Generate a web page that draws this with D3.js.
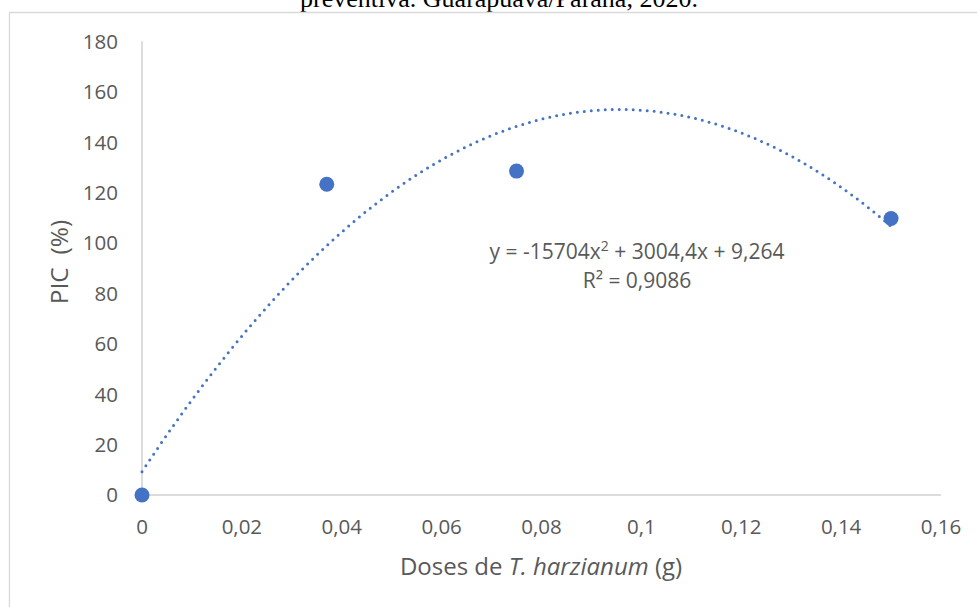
<!DOCTYPE html>
<html>
<head>
<meta charset="utf-8">
<script src="https://cdn.jsdelivr.net/npm/d3@7"></script>
<style>
  html, body { margin: 0; padding: 0; background: #fff; }
  svg { display: block; }
</style>
</head>
<body>
<svg id="chart" width="977" height="607"></svg>
<script>
// Observed PIC (%) per dose of T. harzianum (g)
const doses = [0, 0.037, 0.075, 0.15];
const picValues = [0, 123.3, 128.5, 109.7];

// Quadratic trend: y = a x^2 + b x + c
const trendA = -15704, trendB = 3004.4, trendC = 9.264;
const equationLabel = ["y = -15704x", "2", " + 3004,4x + 9,264"];
const r2Label = "R² = 0,9086";

const xTicks = [0, 0.02, 0.04, 0.06, 0.08, 0.1, 0.12, 0.14, 0.16];
const yTicks = [0, 20, 40, 60, 80, 100, 120, 140, 160, 180];

const captionText = "preventiva. Guarapuava/Paraná, 2020.";
const xTitleParts = ["Doses de ", "T. harzianum", " (g)"];
const yTitle = "PIC  (%)";

const svg = d3.select("#chart");
const sans = "'Open Sans', 'Noto Sans', sans-serif";
const grey = "#595959";
const axisGrey = "#d0d0d0";

const x = d3.scaleLinear().domain([0, 0.16]).range([142, 941]);
const y = d3.scaleLinear().domain([0, 180]).range([495, 41.3]);

// Caption line above the chart frame
svg.append("text")
  .attr("x", 499).attr("y", 7)
  .attr("text-anchor", "middle")
  .attr("font-family", "'Liberation Serif', 'Times New Roman', serif")
  .attr("font-size", 26)
  .attr("fill", "#000")
  .text(captionText);

// Chart frame (top and left edges)
svg.append("path")
  .attr("d", "M9.5,607 L9.5,12.5 L977,12.5")
  .attr("fill", "none")
  .attr("stroke", "#d9d9d9")
  .attr("stroke-width", 1.3);

// Axes lines
svg.append("line")
  .attr("x1", x(0)).attr("x2", x(0.16))
  .attr("y1", y(0)).attr("y2", y(0))
  .attr("stroke", axisGrey).attr("stroke-width", 1.5);
svg.append("line")
  .attr("x1", x(0)).attr("x2", x(0))
  .attr("y1", y(0)).attr("y2", y(180))
  .attr("stroke", axisGrey).attr("stroke-width", 1.5);

const fmtX = v => v === 0 ? "0" : d3.format(".2~f")(v).replace(".", ",");

// Tick labels
svg.append("g").selectAll("text")
  .data(xTicks).join("text")
  .attr("x", d => x(d)).attr("y", 534)
  .attr("text-anchor", "middle")
  .attr("font-family", sans).attr("font-size", 20.5).attr("fill", grey)
  .text(fmtX);

svg.append("g").selectAll("text")
  .data(yTicks).join("text")
  .attr("x", 118).attr("y", d => y(d))
  .attr("dy", "0.36em")
  .attr("text-anchor", "end")
  .attr("font-family", sans).attr("font-size", 20.5).attr("fill", grey)
  .text(d => d);

// Axis titles
const xt = svg.append("text")
  .attr("x", 541).attr("y", 575)
  .attr("text-anchor", "middle")
  .attr("font-family", sans).attr("font-size", 24).attr("fill", grey);
xTitleParts.forEach((p, i) => {
  xt.append("tspan").attr("font-style", i === 1 ? "italic" : "normal").text(p);
});

svg.append("text")
  .attr("transform", `translate(68,262) rotate(-90)`)
  .attr("text-anchor", "middle")
  .attr("font-family", sans).attr("font-size", 24.5).attr("fill", grey)
  .style("white-space", "pre")
  .attr("xml:space", "preserve")
  .text(yTitle);

// Trend curve (dotted)
const curveXs = d3.range(0, 0.15 + 1e-9, 0.0005);
const line = d3.line()
  .x(d => x(d))
  .y(d => y(trendA * d * d + trendB * d + trendC));
svg.append("path")
  .datum(curveXs)
  .attr("d", line)
  .attr("fill", "none")
  .attr("stroke", "#4472c4")
  .attr("stroke-width", 3)
  .attr("stroke-linecap", "round")
  .attr("stroke-dasharray", "0 7");

// Data points
svg.append("g").selectAll("circle")
  .data(doses.map((d, i) => [d, picValues[i]])).join("circle")
  .attr("cx", d => x(d[0])).attr("cy", d => y(d[1]))
  .attr("r", 7.5)
  .attr("fill", "#4472c4");

// Equation and R² label
const eq = svg.append("text")
  .attr("x", 637).attr("y", 259)
  .attr("text-anchor", "middle")
  .attr("font-family", sans).attr("font-size", 21).attr("fill", grey);
eq.append("tspan").text(equationLabel[0]);
eq.append("tspan").attr("dy", -8).attr("font-size", 14).text(equationLabel[1]);
eq.append("tspan").attr("dy", 8).text(equationLabel[2]);

svg.append("text")
  .attr("x", 637).attr("y", 288)
  .attr("text-anchor", "middle")
  .attr("font-family", sans).attr("font-size", 21).attr("fill", grey)
  .text(r2Label);
</script>
</body>
</html>
